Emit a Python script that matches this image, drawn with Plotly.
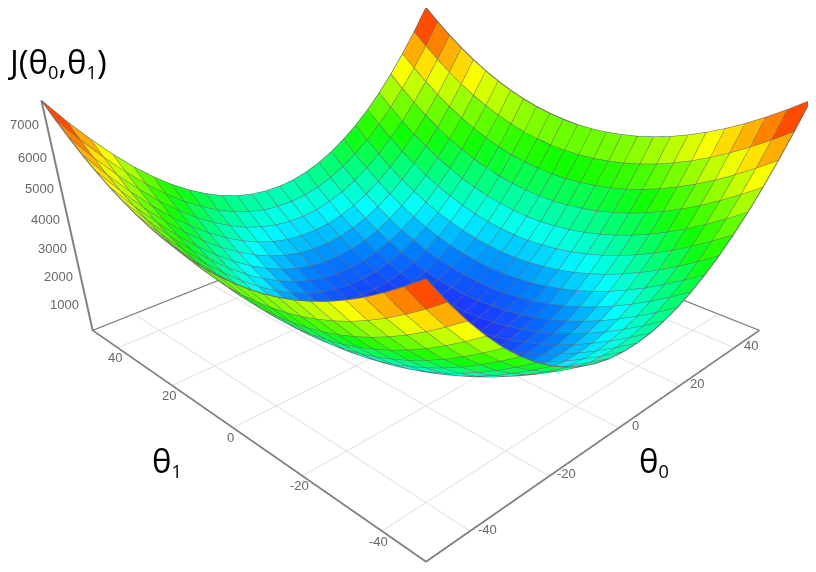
"""Bowl-shaped cost surface J(theta0, theta1) drawn as flat coloured cells."""

import numpy as np
import plotly.graph_objects as go

# grid positions along each horizontal axis
THETA_GRID = [-50, -46, -42, -38, -34, -30, -26, -22, -18, -14, -10, -6, -2,
              2, 6, 10, 14, 18, 22, 26, 30, 34, 38, 42, 46, 50]

Z_QUADRANT = [
    [7700, 6930, 6230, 5590, 5010, 4500, 4050, 3670, 3350, 3090, 2900, 2770, 2710],
    [7290, 6520, 5820, 5180, 4600, 4090, 3640, 3260, 2940, 2680, 2490, 2360, 2300],
    [6910, 6140, 5440, 4800, 4220, 3710, 3260, 2880, 2560, 2300, 2110, 1980, 1920],
    [6560, 5790, 5090, 4450, 3870, 3360, 2910, 2530, 2210, 1950, 1760, 1630, 1570],
    [6250, 5480, 4780, 4140, 3560, 3050, 2600, 2220, 1900, 1640, 1450, 1320, 1260],
    [5970, 5200, 4500, 3860, 3280, 2770, 2320, 1940, 1620, 1360, 1170, 1040, 980],
    [5730, 4960, 4260, 3620, 3040, 2530, 2080, 1700, 1380, 1120, 930, 800, 740],
    [5520, 4750, 4050, 3410, 2830, 2320, 1870, 1490, 1170, 910, 720, 590, 530],
    [5350, 4580, 3880, 3240, 2660, 2150, 1700, 1320, 1000, 740, 550, 420, 360],
    [5210, 4440, 3740, 3100, 2520, 2010, 1560, 1180, 860, 600, 410, 280, 220],
    [5110, 4340, 3640, 3000, 2420, 1910, 1460, 1080, 760, 500, 310, 180, 120],
    [5040, 4270, 3570, 2930, 2350, 1840, 1390, 1010, 690, 430, 240, 110, 50],
    [5000, 4230, 3530, 2890, 2310, 1800, 1350, 970, 650, 390, 200, 70, 10],
]

HORIZONTAL_TICKS = [-40, -20, 0, 20, 40]
HORIZONTAL_LABELS = ["-40", "-20", "0", "20", "40"]
Z_TICKS = [1000, 2000, 3000, 4000, 5000, 6000, 7000]
AXIS_RANGE = [-50, 50]
Z_RANGE = [0, 7700]

# cell colour by height, hue walks from blue to red
COLOR_MAX = 7700
COLOR_LEVELS = [0, 250, 960, 1930, 2890, 3850, 4810, 5780, 6740, 7700]
COLOR_VALUES = ["#1c28ff", "#1a38ff", "#0080ff", "#00ffff", "#00ff80", "#10ff00",
                "#80ff00", "#ffff00", "#ff8000", "#ff0000"]

FIG_W, FIG_H = 836, 828

quad = np.array(Z_QUADRANT, dtype=float)
top = np.hstack([quad, quad[:, ::-1]])
z_grid = np.vstack([top, top[::-1]])
n = len(THETA_GRID)
xg, yg = np.meshgrid(THETA_GRID, THETA_GRID)

idx = np.arange(n * n).reshape(n, n)
a, b, c, d = idx[:-1, :-1].ravel(), idx[:-1, 1:].ravel(), idx[1:, 1:].ravel(), idx[1:, :-1].ravel()
cell_z = (z_grid[:-1, :-1] + z_grid[:-1, 1:] + z_grid[1:, 1:] + z_grid[1:, :-1]).ravel() / 4

scale = [[v / COLOR_MAX, col] for v, col in zip(COLOR_LEVELS, COLOR_VALUES)]

fig = go.Figure()

# floor grid, so it stays off the walls
grid_x, grid_y = [], []
for t in HORIZONTAL_TICKS:
    grid_x += [t, t, None, AXIS_RANGE[0], AXIS_RANGE[1], None]
    grid_y += [AXIS_RANGE[0], AXIS_RANGE[1], None, t, t, None]
fig.add_trace(go.Scatter3d(
    x=grid_x, y=grid_y, z=[Z_RANGE[0] if v is not None else None for v in grid_x],
    mode="lines", line=dict(color="#e2e2e2", width=2),
    showlegend=False, hoverinfo="skip",
))

fig.add_trace(go.Mesh3d(
    x=xg.ravel(), y=yg.ravel(), z=z_grid.ravel(),
    i=np.r_[a, a], j=np.r_[b, c], k=np.r_[c, d],
    intensity=np.r_[cell_z, cell_z], intensitymode="cell",
    colorscale=scale, cmin=0, cmax=COLOR_MAX,
    showscale=False, flatshading=True, hoverinfo="skip",
    lighting=dict(ambient=1, diffuse=0, specular=0, roughness=1, fresnel=0),
))

# cell borders
line_x, line_y, line_z = [], [], []
for i in range(n):
    line_x += list(xg[i]) + [None]
    line_y += list(yg[i]) + [None]
    line_z += list(z_grid[i]) + [None]
    line_x += list(xg[:, i]) + [None]
    line_y += list(yg[:, i]) + [None]
    line_z += list(z_grid[:, i]) + [None]
fig.add_trace(go.Scatter3d(
    x=line_x, y=line_y, z=line_z, mode="lines",
    line=dict(color="#6a6a6a", width=2), showlegend=False, hoverinfo="skip",
))

# far edges of the floor
fig.add_trace(go.Scatter3d(
    x=[AXIS_RANGE[0], AXIS_RANGE[1], AXIS_RANGE[1]],
    y=[AXIS_RANGE[1], AXIS_RANGE[1], AXIS_RANGE[0]],
    z=[Z_RANGE[0]] * 3, mode="lines",
    line=dict(color="#808080", width=2.5), showlegend=False, hoverinfo="skip",
))

tick_font = dict(family="Liberation Sans", size=13, color="#666666")
horizontal_axis = dict(
    range=AXIS_RANGE, tickvals=HORIZONTAL_TICKS,
    title=dict(text=""), showticklabels=False,
    showbackground=False, showgrid=False,
    showline=True, linecolor="#808080", linewidth=4,
    ticks="", zeroline=False, showspikes=False,
)

# tick labels as scene annotations so they can sit where the picture has them
tick_notes = []
for t, label in zip(HORIZONTAL_TICKS, HORIZONTAL_LABELS):
    tick_notes.append(dict(x=t, y=AXIS_RANGE[0], z=Z_RANGE[0], text=label, showarrow=False,
                           font=tick_font, xshift=17, yshift=2))
    tick_notes.append(dict(x=AXIS_RANGE[0], y=t, z=Z_RANGE[0], text=label, showarrow=False,
                           font=tick_font, xshift=-3, yshift=-10))
for t in Z_TICKS:
    tick_notes.append(dict(x=AXIS_RANGE[0], y=AXIS_RANGE[1], z=t, text=str(t), showarrow=False,
                           font=tick_font, xshift=-22, yshift=0))

fig.update_layout(
    width=FIG_W, height=FIG_H,
    margin=dict(l=0, r=0, t=0, b=0),
    paper_bgcolor="white",
    showlegend=False,
    scene=dict(
        domain=dict(x=[0, 1], y=[0, 1]),
        xaxis=horizontal_axis,
        yaxis=horizontal_axis,
        zaxis=dict(
            range=Z_RANGE, tickvals=Z_TICKS, title=dict(text=""), showticklabels=False,
            showbackground=False, showgrid=False,
            showline=True, linecolor="#808080", linewidth=4,
            ticks="", zeroline=False, showspikes=False,
        ),
        aspectmode="manual",
        aspectratio=dict(x=1, y=1, z=0.487),
        camera=dict(
            eye=dict(x=-1.301, y=-1.301, z=0.828),
            up=dict(x=0, y=0, z=1),
            center=dict(x=-0.161, y=-0.161, z=-0.32),
        ),
        annotations=tick_notes,
    ),
)

label_font = dict(family="Open Sans", size=33, color="black")
sub = '<span style="font-size:26px"><sub>%s</sub></span>'
for text, px, py in [("J(θ" + sub % "0" + ",θ" + sub % "1" + ")", 49, 54),
                     ("θ" + sub % "1", 159, 452),
                     ("θ" + sub % "0", 646, 452)]:
    fig.add_annotation(
        x=px / FIG_W, y=1 - py / FIG_H, xref="paper", yref="paper",
        text=text, showarrow=False, font=label_font,
        xanchor="center", yanchor="middle",
    )

fig.write_html("out.html")
